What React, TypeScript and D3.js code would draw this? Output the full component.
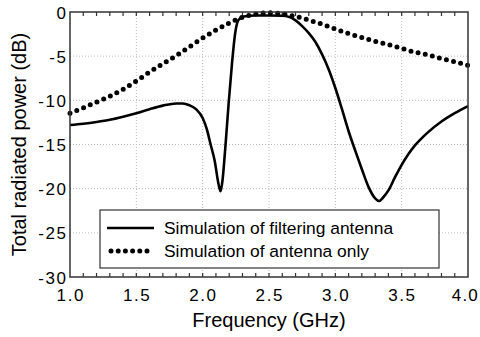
import React, { useEffect, useRef } from 'react';
import * as d3 from 'd3';

// filtering antenna (solid)
const filterFreq = [1.0, 1.1, 1.2, 1.3, 1.4, 1.5, 1.6, 1.7, 1.8, 1.85, 1.9, 1.95, 2.0, 2.03, 2.06, 2.09, 2.12, 2.135, 2.15, 2.17, 2.195, 2.22, 2.245, 2.27, 2.31, 2.4, 2.5, 2.6, 2.65, 2.7, 2.75, 2.8, 2.85, 2.9, 2.95, 3.0, 3.05, 3.1, 3.15, 3.2, 3.25, 3.3, 3.33, 3.36, 3.4, 3.45, 3.5, 3.55, 3.6, 3.65, 3.7, 3.8, 3.9, 4.0];
const filterDb = [-12.8, -12.65, -12.45, -12.2, -11.85, -11.45, -11.0, -10.6, -10.35, -10.35, -10.55, -11.0, -12.0, -13.2, -15.0, -16.8, -19.5, -20.3, -19.0, -15.5, -10.5, -6.0, -2.4, -0.9, -0.5, -0.4, -0.4, -0.42, -0.55, -0.95, -1.6, -2.4, -3.4, -4.8, -6.5, -8.6, -11.0, -13.5, -15.7, -17.8, -19.8, -21.1, -21.4, -21.0, -20.2, -18.7, -17.3, -16.1, -15.1, -14.3, -13.6, -12.4, -11.45, -10.65];

// antenna only (dotted)
const antFreq = [1.0, 1.1, 1.2, 1.3, 1.4, 1.5, 1.6, 1.7, 1.8, 1.9, 2.0, 2.1, 2.2, 2.3, 2.4, 2.5, 2.6, 2.7, 2.8, 2.9, 3.0, 3.1, 3.2, 3.3, 3.4, 3.5, 3.6, 3.7, 3.8, 3.9, 4.0];
const antDb = [-11.45, -10.85, -10.2, -9.55, -8.75, -7.8, -6.8, -5.85, -4.95, -3.95, -2.95, -2.05, -1.25, -0.6, -0.22, -0.08, -0.22, -0.5, -0.92, -1.38, -1.93, -2.45, -2.88, -3.33, -3.7, -4.12, -4.55, -4.85, -5.28, -5.64, -6.05];

const xTicks = [1.0, 1.5, 2.0, 2.5, 3.0, 3.5, 4.0];
const yTicks = [0, -5, -10, -15, -20, -25, -30];
const legendLabels = ['Simulation of filtering antenna', 'Simulation of antenna only'];

const W = 480;
const H = 337;
const FONT = '"Liberation Sans", Arial, sans-serif';

export default function App() {
  const ref = useRef<SVGSVGElement>(null);

  useEffect(() => {
    const svg = d3.select(ref.current);
    svg.selectAll('*').remove();

    const m = { left: 70, right: 12, top: 12, bottom: 60 };
    const x = d3.scaleLinear().domain([1, 4]).range([m.left, W - m.right]);
    const y = d3.scaleLinear().domain([-30, 0]).range([H - m.bottom, m.top]);

    svg.append('rect').attr('width', W).attr('height', H).attr('fill', '#fff');

    // grid
    const grid = svg.append('g').attr('stroke', '#bbb').attr('stroke-width', 1).attr('stroke-dasharray', '1 2');
    xTicks.slice(1, -1).forEach((t) => {
      grid.append('line').attr('x1', x(t)).attr('x2', x(t)).attr('y1', y(0)).attr('y2', y(-30));
    });
    yTicks.slice(1, -1).forEach((t) => {
      grid.append('line').attr('x1', x(1)).attr('x2', x(4)).attr('y1', y(t)).attr('y2', y(t));
    });

    // minor ticks top & bottom
    const minor = d3.range(1.1, 4.0, 0.1);
    const tk = svg.append('g').attr('stroke', '#333').attr('stroke-width', 1.2);
    minor.forEach((t) => {
      tk.append('line').attr('x1', x(t)).attr('x2', x(t)).attr('y1', y(-30)).attr('y2', y(-30) - 4);
      tk.append('line').attr('x1', x(t)).attr('x2', x(t)).attr('y1', y(0)).attr('y2', y(0) + 4);
    });

    // lines
    const solid = d3
      .line<number>()
      .x((_, i) => x(filterFreq[i]))
      .y((d) => y(d))
      .curve(d3.curveMonotoneX);
    svg.append('path').attr('d', solid(filterDb)).attr('fill', 'none').attr('stroke', '#000').attr('stroke-width', 2.6);

    const dotted = d3
      .line<number>()
      .x((_, i) => x(antFreq[i]))
      .y((d) => y(d))
      .curve(d3.curveMonotoneX);
    svg
      .append('path')
      .attr('d', dotted(antDb))
      .attr('fill', 'none')
      .attr('stroke', '#000')
      .attr('stroke-width', 5)
      .attr('stroke-linecap', 'round')
      .attr('stroke-dasharray', '0 7.3');

    // frame
    svg
      .append('rect')
      .attr('x', x(1))
      .attr('y', y(0))
      .attr('width', x(4) - x(1))
      .attr('height', y(-30) - y(0))
      .attr('fill', 'none')
      .attr('stroke', '#333')
      .attr('stroke-width', 1.5);

    // tick labels
    const lab = svg.append('g').attr('font-family', FONT).attr('fill', '#000');
    xTicks.forEach((t, i) => {
      const last = i === xTicks.length - 1;
      lab.append('text')
        .attr('x', last ? W - 1 : x(t) + 0.8)
        .attr('y', y(-30) + 24)
        .attr('text-anchor', last ? 'end' : 'middle')
        .attr('font-size', 17)
        .attr('letter-spacing', last ? 1.2 : 1.6)
        .text(t.toFixed(1));
    });
    yTicks.forEach((t) => {
      lab.append('text')
        .attr('x', x(1) - 2.5)
        .attr('y', y(t) + 6.5)
        .attr('text-anchor', 'end')
        .attr('font-size', 17)
        .attr('letter-spacing', 1.6)
        .text(String(t));
    });

    lab
      .append('text')
      .attr('x', (x(1) + x(4)) / 2)
      .attr('y', 327)
      .attr('text-anchor', 'middle')
      .attr('font-size', 20)
      .text('Frequency (GHz)');
    lab
      .append('text')
      .attr('transform', `translate(26,${(y(0) + y(-30)) / 2}) rotate(-90)`)
      .attr('text-anchor', 'middle')
      .attr('font-size', 20)
      .text('Total radiated power (dB)');

    // legend
    const lg = svg.append('g');
    lg.append('rect').attr('x', 100).attr('y', 210).attr('width', 339).attr('height', 58).attr('fill', '#fff').attr('stroke', '#333').attr('stroke-width', 1.2);
    lg.append('line').attr('x1', 107).attr('x2', 154).attr('y1', 228).attr('y2', 228).attr('stroke', '#000').attr('stroke-width', 2.6);
    lg.append('line')
      .attr('x1', 111)
      .attr('x2', 154)
      .attr('y1', 251)
      .attr('y2', 251)
      .attr('stroke', '#000')
      .attr('stroke-width', 5)
      .attr('stroke-linecap', 'round')
      .attr('stroke-dasharray', '0 7.2');
    legendLabels.forEach((l, i) => {
      lg.append('text')
        .attr('x', 164)
        .attr('y', 234 + i * 23)
        .attr('font-family', FONT)
        .attr('font-size', 17.4)
        .text(l);
    });
  }, []);

  return <svg ref={ref} width={W} height={H} style={{ position: 'absolute', left: 0, top: 0 }} />;
}
